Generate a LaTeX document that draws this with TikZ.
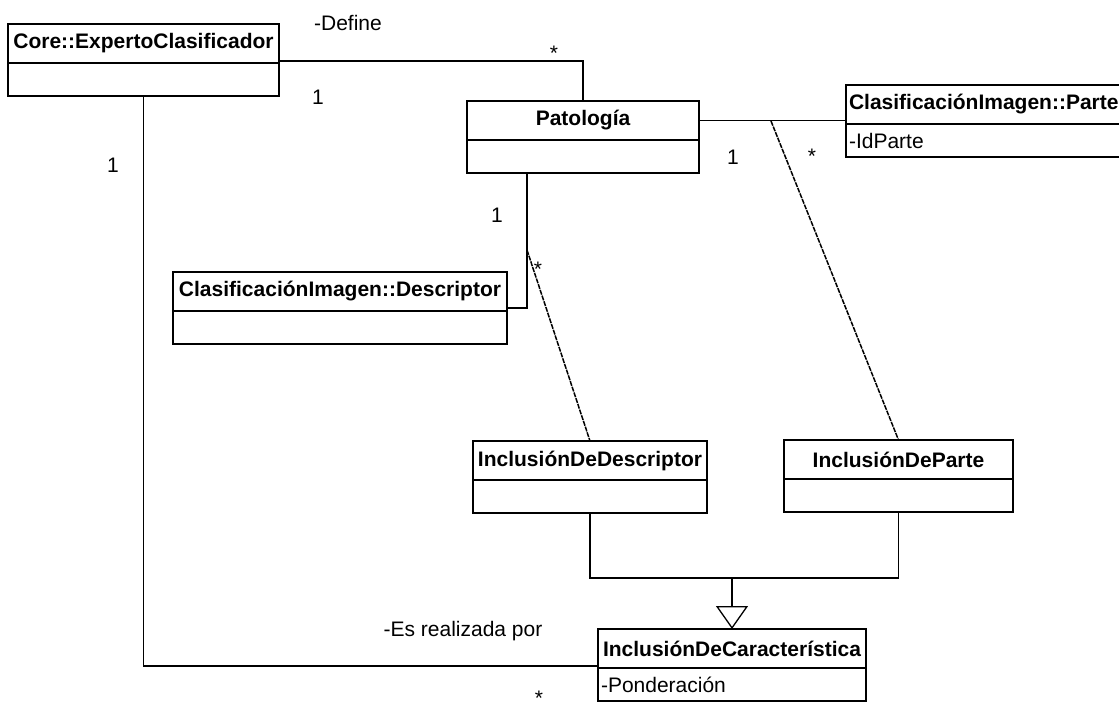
\documentclass[tikz,border=0pt]{standalone}
\usepackage{fontspec}
\setmainfont{Liberation Sans}
\usetikzlibrary{positioning,arrows.meta}

\begin{document}
\begin{tikzpicture}[x=1pt, y=-1pt,
    class head/.style={draw, line width=1.6pt, outer sep=0pt, inner sep=3pt, minimum height=39pt, anchor=north west, font=\fontsize{21}{25}\selectfont\bfseries},
    class body/.style={draw, line width=1.6pt, outer sep=0pt, inner sep=3pt, minimum height=33pt, font=\fontsize{21}{25}\selectfont},
    mult/.style={font=\fontsize{21}{25}\selectfont, text height=15pt, text depth=4pt, inner sep=0pt},
    assoc/.style={line width=1.3pt},
    link/.style={line width=1.5pt, dash pattern=on 5pt off 1pt}]

    \useasboundingbox (0,0) rectangle (1119,702);

    % clases
    \node[class head, minimum width=271pt] (core) at (8,24) {Core::ExpertoClasificador};
    \node[class body, minimum width=271pt, below=0pt of core] (core-b) {};

    \node[class head, minimum width=232pt] (pato) at (467,101) {Patología};
    \node[class body, minimum width=232pt, below=0pt of pato] (pato-b) {};

    \node[class head, text width=284pt, align=left] (parte) at (846,85) {ClasificaciónImagen::Parte};
    \node[class body, text width=284pt, align=left, below=0pt of parte] (parte-b) {-IdParte};

    \node[class head, minimum width=334pt] (desc) at (173,272) {ClasificaciónImagen::Descriptor};
    \node[class body, minimum width=334pt, below=0pt of desc] (desc-b) {};

    \node[class head, minimum width=234pt] (idesc) at (473,441) {InclusiónDeDescriptor};
    \node[class body, minimum width=234pt, below=0pt of idesc] (idesc-b) {};

    \node[class head, minimum width=229pt] (iparte) at (784,440) {InclusiónDeParte};
    \node[class body, minimum width=229pt, below=0pt of iparte] (iparte-b) {};

    \node[class head, minimum width=268pt] (carac) at (598,629) {InclusiónDeCaracterística};
    \node[class body, text width=262pt, align=left, below=0pt of carac] (carac-b) {-Ponderación};

    % asociaciones
    \draw[assoc] ([yshift=2pt]core.south east) -| (pato.north);
    \draw[assoc] (core-b.south) |- ([yshift=2pt]carac.south west);
    \draw[assoc] (pato.east) -- (pato.east -| parte.west);
    \draw[assoc] ([xshift=-56pt]pato-b.south) |- ([yshift=3pt]desc.south east);

    % clases de asociacion
    \coordinate (parteEnd) at (771,121);
    \coordinate (descEnd) at (527,250);
    \draw[link] (parteEnd) -- (iparte.north);
    \draw[link] (descEnd) -- (idesc.north);

    % generalizacion
    \coordinate (gen) at (carac.north |- 0,578);
    \draw[assoc] (idesc-b.south) |- (gen) -| (iparte-b.south);
    \draw[assoc, -{Triangle[open, length=23pt, width=32pt]}] (gen) -- (carac.north);

    % roles y multiplicidades
    \node[mult] (define) at (348,25) {-Define};
    \node[mult] (defStar) at (554,55) {*};
    \node[mult] (defOne) at (318,99) {1};
    \node[mult] (realOne) at (113,167) {1};
    \node[mult] (descOne) at (497,217) {1};
    \node[mult] (descStar) at (538,271) {*};
    \node[mult] (parteOne) at (733,159) {1};
    \node[mult] (parteStar) at (812,158) {*};
    \node[mult] (realiza) at (463,631) {-Es realizada por};
    \node[mult] (realStar) at (539,700) {*};
\end{tikzpicture}
\end{document}
